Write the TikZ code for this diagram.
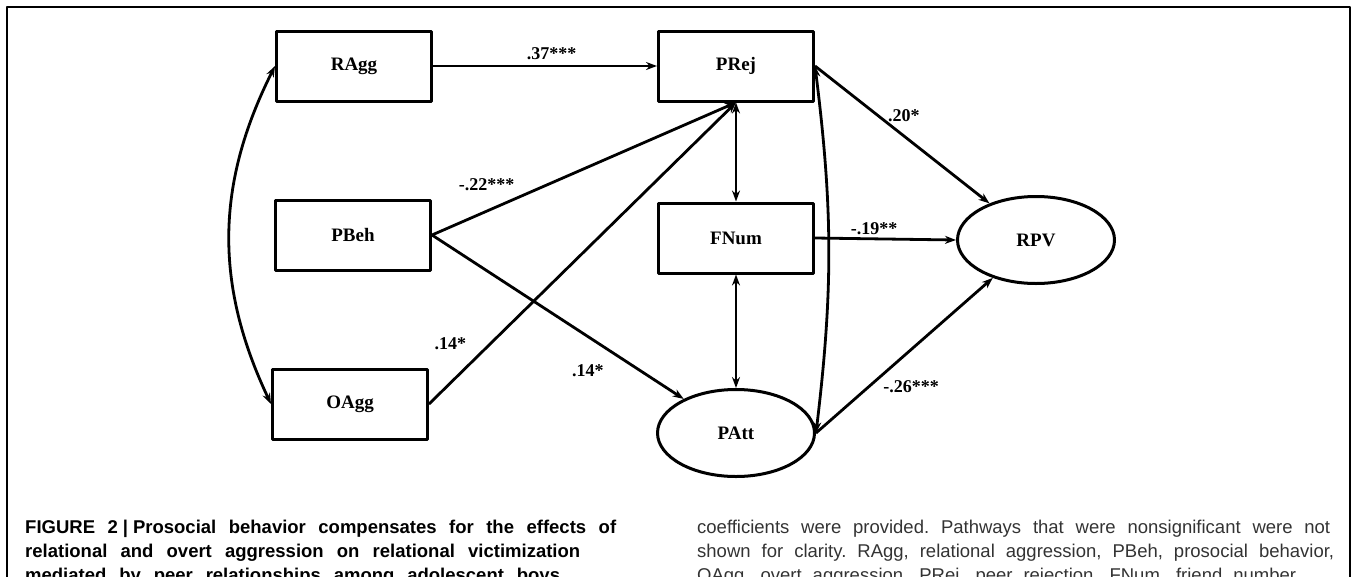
\documentclass[tikz,border=0pt]{standalone}
\usepackage{fontspec}
\setmainfont{Liberation Serif}
\newfontfamily\capfont{Liberation Sans}
\usetikzlibrary{shapes.geometric,arrows.meta}
\frenchspacing
\tikzset{
	var/.style={draw,line width=3pt,minimum width=155pt,minimum height=70pt,inner sep=0pt,font=\bfseries\fontsize{19}{23}\selectfont},
	latent/.style={var,ellipse,minimum width=157pt,minimum height=87pt},
	coef/.style={inner sep=1pt,font=\bfseries\fontsize{18}{22}\selectfont},
	effect/.style={->,line width=2.8pt},
	cov/.style={<->,line width=2.8pt},
	capbold/.style={anchor=base west,inner sep=0pt,font=\capfont\bfseries\fontsize{18.5}{24}\selectfont},
	capreg/.style={anchor=base west,inner sep=0pt,text=black!80,font=\capfont\fontsize{18.5}{24}\selectfont}
}
\begin{document}
\begin{tikzpicture}[x=1pt,y=-1pt,>={Stealth[length=11pt,width=8pt]},line join=round]
		\useasboundingbox (0,0) rectangle (1357,576);
		\draw[line width=2.8pt] (7,7) rectangle (1350,640);
		\node[var] (ragg) at (354,66) {RAgg};
		\node[var] (pbeh) at (353,235) {PBeh};
		\node[var] (oagg) at (350,404) {OAgg};
		\node[var] (prej) at (736,66) {PRej};
		\node[var] (fnum) at (736,238) {FNum};
		\node[latent] (patt) at (736,433) {PAtt};
		\node[latent] (rpv) at (1036,240) {RPV};
		\draw[effect] (ragg.east) -- node[coef,pos=0.53,above=4pt] (c37) {.37***} (prej.west);
		\draw[effect] (pbeh.east) -- node[coef,pos=0.18,above=18pt] (c22) {-.22***} (prej.south);
		\draw[effect] (oagg.east) -- node[coef,pos=0.2,left=22pt] (c14a) {.14*} (prej.south);
		\draw[effect] (pbeh.east) -- node[coef,pos=0.83,left=35pt] (c14b) {.14*} (patt);
		\draw[effect] (prej.east) -- node[coef,pos=0.36,right=8pt] (c20) {.20*} (rpv);
		\draw[effect] (fnum.east) -- node[coef,pos=0.42,above=2pt] (c19) {-.19**} (rpv.west);
		\draw[effect] (patt.east) -- node[coef,pos=0.3,right=12pt] (c26) {-.26***} (rpv);
		\draw[cov] (prej.south) -- (fnum.north);
		\draw[cov] (fnum.south) -- (patt.north);
		\draw[cov] (prej.east) to[bend left=7] (patt.east);
		\draw[cov] (ragg.west) to[bend right=26] (oagg.west);
		\node[capbold] (capa) at (25,533) {\makebox[591pt][s]{FIGURE 2\kern5pt|\kern5pt Prosocial behavior compensates for the effects of}};
		\node[capbold] (capb) at (25,557) {\makebox[555pt][s]{relational and overt aggression on relational victimization}};
		\node[capbold] (capc) at (25,581) {\makebox[540pt][s]{mediated by peer relationships among adolescent boys.}};
		\node[capreg] (capd) at (697,533) {\makebox[633pt][s]{coefficients were provided. Pathways that were nonsignificant were not}};
		\node[capreg] (cape) at (697,557) {\makebox[637pt][s]{shown for clarity. RAgg, relational aggression, PBeh, prosocial behavior,}};
		\node[capreg] (capf) at (697,581) {\makebox[603pt][s]{OAgg, overt aggression, PRej, peer rejection, FNum, friend number,}};
\end{tikzpicture}
\end{document}
